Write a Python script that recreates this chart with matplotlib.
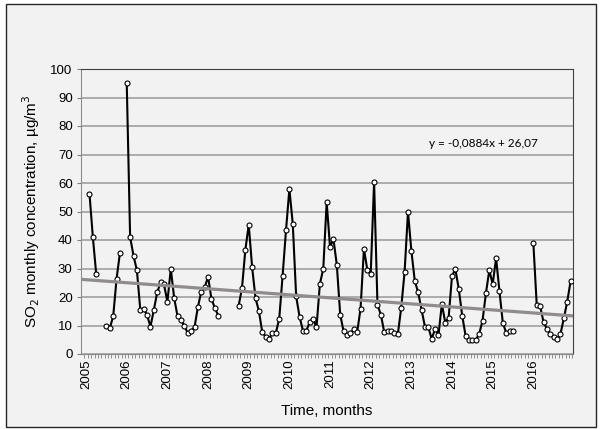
import numpy as np
import matplotlib
matplotlib.use("Agg")
import matplotlib.pyplot as plt
from matplotlib.patches import Rectangle

plt.rcParams['font.family'] = ['Liberation Sans', 'DejaVu Sans']

# monthly SO2, first value = Feb 2005, last = Dec 2016 (None = no data)
so2 = [56.3, 41.0, 27.9, None, None, 10.0, 9.1, 13.2, 26.4, 35.6, None,
       95.0, 41.0, 34.5, 29.3, 15.5, 15.9, 13.6, 9.6, 15.5, 21.7, 25.1, 24.4, 18.3,
       29.9, 19.6, 13.2, 11.8, 10.0, 7.3, 8.2, 9.4, 16.5, 21.9, 23.4, 27.1,
       19.3, 16.2, 13.5, None, None, None, None, None, 16.8, 23.0, 36.5, 45.4,
       30.5, 19.6, 15.1, 7.6, 6.1, 5.3, 7.5, 7.4, 12.3, 27.5, 43.4, 57.9,
       45.6, 20.2, 13.1, 8.2, 8.2, 11.1, 12.4, 9.3, 24.6, 29.9, 53.3, 37.4,
       40.4, 31.2, 13.8, 7.9, 6.6, 7.3, 8.6, 7.6, 15.9, 36.9, 29.5, 28.1,
       60.3, 17.2, 13.8, 7.6, 8.2, 8.2, 7.3, 6.9, 16.2, 28.8, 49.9, 36.2,
       25.7, 21.6, 15.5, 9.6, 9.4, 5.3, 8.8, 6.6, 17.6, 11.0, 12.8, 27.5,
       29.7, 22.7, 13.5, 6.4, 4.9, 4.9, 4.9, 7.0, 11.7, 21.3, 29.4, 24.5,
       33.6, 22.0, 10.8, 7.5, 7.9, 7.9, None, None, None, None, None, 38.9,
       17.1, 16.8, 11.2, 8.8, 7.0, 5.8, 5.1, 7.0, 12.5, 18.4, 25.6]
years = [str(y) for y in range(2005, 2017)]
slope = -0.0884
intercept = 26.07

y = np.array([np.nan if v is None else v for v in so2], dtype=float)
months = np.arange(1, len(y) + 1)   # month index, 0 = Jan 2005

fig = plt.figure(figsize=(6, 4.29), dpi=100)
fig.patch.set_facecolor('white')
fig.patches.append(Rectangle((6 / 600, 2 / 429), 590 / 600, 423 / 429,
                             transform=fig.transFigure, facecolor='#f2f2f2',
                             edgecolor='#262626', linewidth=1, zorder=-10))

ax = fig.add_axes([81 / 600, 75 / 429, 492 / 600, 285 / 429])
ax.set_facecolor('#f2f2f2')

ax.plot(months, y, color='black', lw=1.5, marker='o', ms=3.6,
        mfc='white', mec='black', mew=0.8, zorder=3)

xl = (-1.5, 143.7)
xt = np.array(xl)
ax.plot(xt, slope * xt + intercept, color='#908c8c', lw=2.3, zorder=4)

ax.set_xlim(*xl)
ax.set_ylim(0, 100)
ax.set_yticks(range(0, 101, 10))
ax.yaxis.grid(True, color='#a6a6a6', lw=1.3)
ax.set_axisbelow(True)

ax.set_xticks(np.arange(0, 133, 12))
ax.set_xticklabels(years, rotation=90, fontsize=9.5)
ax.set_xticks(np.arange(-0.5, 143.6, 1), minor=True)
ax.tick_params(axis='x', which='major', length=0, pad=4)
ax.tick_params(axis='x', which='minor', length=3, color='#808080', width=0.6)
ax.tick_params(axis='y', length=3, color='#808080', labelsize=9.5, pad=3)

for s in ['top', 'right']:
    ax.spines[s].set_color('#404040')
for s in ['left', 'bottom']:
    ax.spines[s].set_color('#8c8c8c')

ax.set_ylabel('SO$_2$ monthly concentration, µg/m$^3$', fontsize=11, labelpad=6)
ax.set_xlabel('Time, months', fontsize=11, labelpad=11)

ax.text(117.4, 74, 'y = -0,0884x + 26,07', fontsize=8.5, ha='center', va='center',
        family=['Lato', 'DejaVu Sans'])

fig.savefig('out.png', dpi=100, facecolor=fig.get_facecolor())
